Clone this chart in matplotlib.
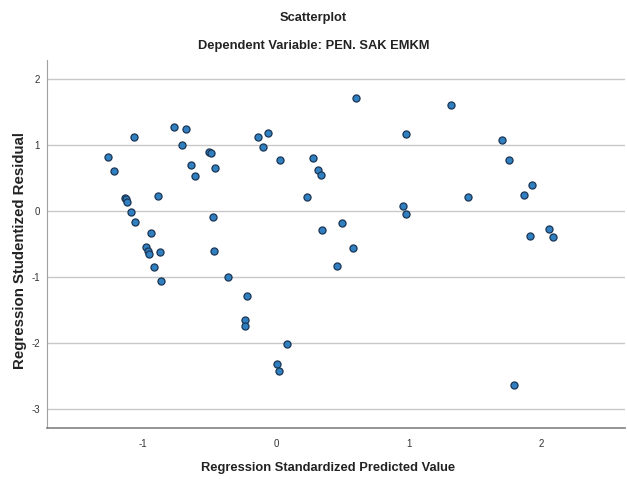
import matplotlib
matplotlib.use("Agg")
import matplotlib.pyplot as plt

pred = [-1.268, -1.223, -1.072, -1.138, -1.130, -1.125, -1.093, -1.060, -0.940,
        -0.977, -0.965, -0.955, -0.874, -0.917, -0.869, -0.887, -0.769, -0.678,
        -0.706, -0.643, -0.608, -0.507, -0.492, -0.462, -0.475, -0.467, -0.359,
        -0.221, -0.231, -0.236, -0.136, -0.063, -0.096, 0.033, 0.083, 0.005,
        0.025, 0.600, 0.281, 0.319, 0.339, 0.234, 0.344, 0.495, 0.578, 0.462,
        0.982, 0.957, 0.982, 1.319, 1.444, 1.703, 1.753, 1.927, 1.871, 1.914,
        2.060, 2.087, 1.791]
resid = [0.813, 0.611, 1.116, 0.202, 0.182, 0.136, -0.020, -0.167, -0.328,
         -0.545, -0.606, -0.652, -0.616, -0.843, -1.066, 0.232, 1.268, 1.242,
         1.000, 0.692, 0.535, 0.889, 0.874, 0.646, -0.086, -0.611, -1.005,
         -1.283, -1.657, -1.747, 1.121, 1.182, 0.975, 0.773, -2.015, -2.323,
         -2.424, 1.707, 0.808, 0.616, 0.540, 0.217, -0.293, -0.182, -0.566, -0.833,
         1.167, 0.071, -0.045, 1.606, 0.207, 1.076, 0.773, 0.394, 0.242, -0.374,
         -0.273, -0.394, -2.631]

xticks = [-1, 0, 1, 2]
yticks = [-3, -2, -1, 0, 1, 2]

plt.rcParams['font.family'] = ['Liberation Sans', 'DejaVu Sans']

fig = plt.figure(figsize=(6.27, 4.79), dpi=100)
ax = fig.add_axes([0.075, 0.1065, 0.922, 0.7685])

ax.set_xlim(-1.726, 2.63)
ax.set_ylim(-3.29, 2.29)

for t in yticks:
    ax.axhline(t, color='#c8c8c8', lw=1.0, zorder=0)

ax.scatter(pred, resid, s=26, c='#2f7fc1', edgecolors='#1b3552', linewidths=0.9, zorder=3)

for s in ['top', 'right']:
    ax.spines[s].set_visible(False)
ax.spines['left'].set_color('#a0a0a0')
ax.spines['bottom'].set_color('#808080')
ax.spines['bottom'].set_linewidth(1.2)

ax.set_xticks(xticks)
ax.set_yticks(yticks)
ax.set_xticklabels([str(v) for v in xticks])
ax.set_yticklabels([str(v) for v in yticks])
ax.tick_params(axis='both', length=0, labelsize=7, colors='#333333', pad=5)
ax.tick_params(axis='x', pad=8)

fig.text(0.5, 0.962, 'Scatterplot', ha='center', va='center', fontsize=9.3, fontweight='bold', color='#222222')
fig.text(0.5, 0.903, 'Dependent Variable: PEN. SAK EMKM', ha='center', va='center', fontsize=9.3, fontweight='bold', color='#222222')
fig.text(0.523, 0.023, 'Regression Standardized Predicted Value', ha='center', va='center', fontsize=9.3, fontweight='bold', color='#222222')
fig.text(0.032, 0.477, 'Regression Studentized Residual', ha='center', va='center', rotation=90, fontsize=10.8, fontweight='bold', color='#222222')

fig.savefig('out.png', dpi=100)
